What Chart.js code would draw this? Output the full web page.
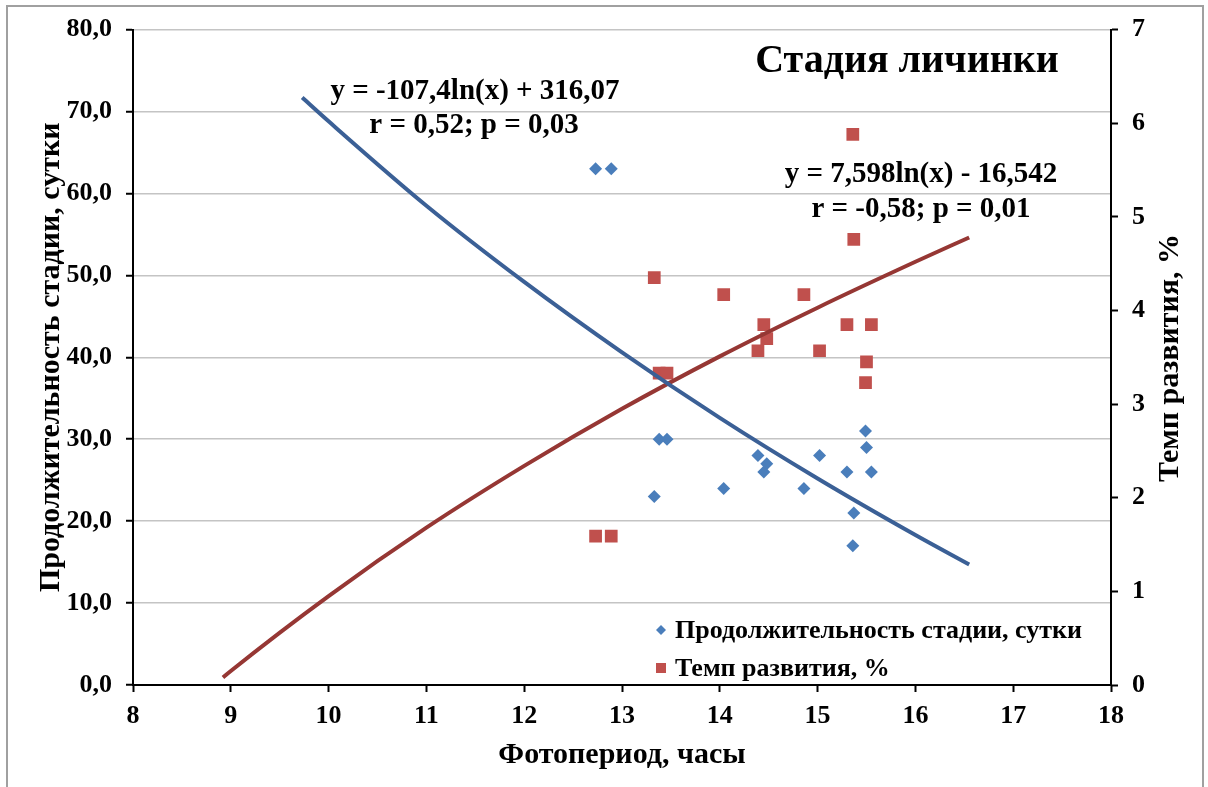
<!DOCTYPE html>
<html>
<head>
<meta charset="utf-8">
<script src="https://cdn.jsdelivr.net/npm/chart.js@4"></script>
<style>
  body { margin: 0; background: #fff; }
</style>
</head>
<body>
<canvas id="chart" width="1208" height="787"></canvas>
<script>
// photoperiod, hours (x) for each observation
const photoperiod = [12.73, 12.89, 13.33, 13.38, 13.46, 14.04, 14.39, 14.45, 14.48, 14.86, 15.02, 15.30, 15.36, 15.37, 15.49, 15.50, 15.55];
// stage duration, days (left axis)
const stageDays = [63, 63, 23, 30, 30, 24, 28, 26, 27, 24, 28, 26, 17, 21, 31, 29, 26];
// development rate, % (right axis)
const devRate = [1.59, 1.59, 4.35, 3.33, 3.33, 4.17, 3.57, 3.85, 3.70, 4.17, 3.57, 3.85, 5.88, 4.76, 3.23, 3.45, 3.85];

// trend lines
const daysTrendX = [9.73, 10, 11, 12, 13, 14, 15, 16, 16.55];
const daysTrendY = [71.7, 68.8, 58.5, 49.2, 40.6, 32.6, 25.2, 18.3, 14.7];
const rateTrendX = [8.92, 9, 10, 11, 12, 13, 14, 15, 16, 16.55];
const rateTrendY = [0.08, 0.15, 0.95, 1.68, 2.34, 2.95, 3.51, 4.03, 4.52, 4.78];

const seriesNames = ["Продолжительность стадии, сутки", "Темп развития, %"];
const chartTitle = "Стадия личинки";
const eqDays = ["y = -107,4ln(x) + 316,07", "r = 0,52; p = 0,03"];
const eqRate = ["y = 7,598ln(x) - 16,542", "r = -0,58; p = 0,01"];
const xTitle = "Фотопериод, часы";
const yTitle = "Продолжительность стадии, сутки";
const y2Title = "Темп развития, %";

const FONT = "'Liberation Serif', 'Times New Roman', serif";
const BLUE = "#4a7ebb";
const RED = "#c0504d";

function toPoints(xs, ys) {
    return xs.map((x, i) => ({ x: x, y: ys[i] }));
}

const frame = {
    id: "frame",
    beforeDraw(chart) {
        const ctx = chart.ctx;
        ctx.save();
        ctx.fillStyle = "#fff";
        ctx.fillRect(0, 0, chart.width, chart.height);
        ctx.strokeStyle = "#a0a0a0";
        ctx.lineWidth = 2;
        ctx.strokeRect(7, 6, 1196, 790);
        ctx.restore();
    }
};

const texts = {
    id: "texts",
    afterDraw(chart) {
        const ctx = chart.ctx;
        ctx.save();
        ctx.fillStyle = "#000";
        ctx.textAlign = "center";
        ctx.textBaseline = "alphabetic";

        ctx.font = "bold 40px " + FONT;
        ctx.fillText(chartTitle, 907, 72);

        ctx.font = "bold 29px " + FONT;
        ctx.fillText(eqDays[0], 475, 99);
        ctx.fillText(eqDays[1], 474, 133);
        ctx.fillText(eqRate[0], 921, 182);
        ctx.fillText(eqRate[1], 921, 217);

        // right axis title, reads bottom to top
        ctx.save();
        ctx.translate(1170, 358);
        ctx.rotate(-Math.PI / 2);
        ctx.textBaseline = "middle";
        ctx.font = "bold 30px " + FONT;
        ctx.fillText(y2Title, 0, 0);
        ctx.restore();

        // legend
        ctx.font = "bold 26px " + FONT;
        ctx.textAlign = "left";
        ctx.textBaseline = "middle";
        const rows = [
            { ds: chart.data.datasets[2], y: 630 },
            { ds: chart.data.datasets[3], y: 668 }
        ];
        rows.forEach(r => {
            ctx.fillStyle = r.ds.backgroundColor;
            if (r.ds.pointStyle === "rectRot") {
                ctx.beginPath();
                ctx.moveTo(661, r.y - 5);
                ctx.lineTo(666, r.y);
                ctx.lineTo(661, r.y + 5);
                ctx.lineTo(656, r.y);
                ctx.closePath();
                ctx.fill();
            } else {
                ctx.fillRect(656, r.y - 5, 10, 10);
            }
            ctx.fillStyle = "#000";
            ctx.fillText(r.ds.label, 675, r.y + 1);
        });
        ctx.restore();
    }
};

new Chart(document.getElementById("chart"), {
    type: "scatter",
    data: {
        datasets: [
            {
                type: "line",
                label: "trend days",
                data: toPoints(daysTrendX, daysTrendY),
                yAxisID: "y",
                borderColor: "#3b6096",
                borderWidth: 4,
                pointRadius: 0,
                cubicInterpolationMode: "monotone",
                fill: false
            },
            {
                type: "line",
                label: "trend rate",
                data: toPoints(rateTrendX, rateTrendY),
                yAxisID: "y2",
                borderColor: "#963734",
                borderWidth: 4,
                pointRadius: 0,
                cubicInterpolationMode: "monotone",
                fill: false
            },
            {
                label: seriesNames[0],
                data: toPoints(photoperiod, stageDays),
                yAxisID: "y",
                pointStyle: "rectRot",
                pointRadius: 6.5,
                backgroundColor: BLUE,
                borderColor: BLUE,
                borderWidth: 0
            },
            {
                label: seriesNames[1],
                data: toPoints(photoperiod, devRate),
                yAxisID: "y2",
                pointStyle: "rect",
                pointRadius: 9,
                backgroundColor: RED,
                borderColor: RED,
                borderWidth: 0
            }
        ]
    },
    options: {
        responsive: false,
        animation: false,
        devicePixelRatio: 1,
        layout: { padding: { top: 28, left: 0, right: 0, bottom: 0 } },
        plugins: {
            legend: { display: false },
            tooltip: { enabled: false }
        },
        scales: {
            x: {
                type: "linear",
                position: "bottom",
                min: 8,
                max: 18,
                ticks: {
                    stepSize: 1,
                    padding: 9,
                    color: "#000",
                    font: { family: FONT, size: 26, weight: "bold" }
                },
                grid: {
                    drawOnChartArea: false,
                    tickLength: 7,
                    tickColor: "#000",
                    tickWidth: 2
                },
                border: { color: "#000", width: 2 },
                title: {
                    display: true,
                    text: xTitle,
                    color: "#000",
                    padding: 14,
                    font: { family: FONT, size: 30, weight: "bold" }
                },
                afterFit: s => { s.height = 102; }
            },
            y: {
                position: "left",
                min: 0,
                max: 80,
                ticks: {
                    stepSize: 10,
                    padding: 14,
                    color: "#000",
                    font: { family: FONT, size: 26, weight: "bold" },
                    callback: v => v.toFixed(1).replace(".", ",")
                },
                grid: {
                    color: "#c4c4c4",
                    lineWidth: 1.5,
                    tickLength: 7,
                    tickColor: "#000",
                    tickWidth: 2
                },
                border: { color: "#000", width: 2 },
                title: {
                    display: true,
                    text: yTitle,
                    color: "#000",
                    padding: 33,
                    font: { family: FONT, size: 30, weight: "bold" }
                },
                afterFit: s => { s.width = 133; }
            },
            y2: {
                position: "right",
                min: 0,
                max: 7,
                ticks: {
                    stepSize: 1,
                    padding: 14,
                    color: "#000",
                    font: { family: FONT, size: 26, weight: "bold" }
                },
                grid: {
                    drawOnChartArea: false,
                    tickLength: 7,
                    tickColor: "#000",
                    tickWidth: 2
                },
                border: { color: "#000", width: 2 },
                afterFit: s => { s.width = 97; }
            }
        }
    },
    plugins: [frame, texts]
});
</script>
</body>
</html>
